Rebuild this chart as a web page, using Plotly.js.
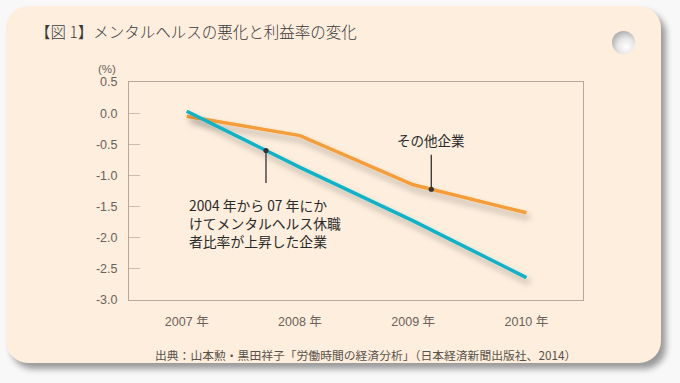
<!DOCTYPE html>
<html>
<head>
<meta charset="utf-8">
<script src="https://cdn.plot.ly/plotly-3.0.1.min.js"></script>
<style>
  html, body { margin:0; padding:0; width:680px; height:383px; overflow:hidden; background:#f8f8f8; }
  #card { position:absolute; left:6px; top:6px; width:655px; height:357px; background:#fdeedd;
          border-radius:22px; box-shadow:5px 6px 6px rgba(0,0,0,0.38); }
  #hole { position:absolute; left:612px; top:31px; width:23px; height:23px; border-radius:50%;
          background:radial-gradient(circle at 62% 68%, #ffffff 0%, #e6e6e6 40%, #a0a0a0 85%, #8a8a8a 100%); }
  #chart { position:absolute; left:0; top:0; width:680px; height:383px; }
</style>
</head>
<body>
<div id="card"></div>
<div id="hole"></div>
<div id="chart"></div>
<script>
// ---- data ----
const years = [2007, 2008, 2009, 2010];
const yearLabels = ['2007 年', '2008 年', '2009 年', '2010 年'];
const otherFirms = [-0.05, -0.36, -1.15, -1.60];          // その他企業 (orange)
const mentalFirms = [0.03, -0.87, -1.73, -2.64];          // メンタルヘルス休職者比率が上昇した企業 (teal)
const yTickVals = [0.5, 0.0, -0.5, -1.0, -1.5, -2.0, -2.5, -3.0];
const yTickText = ['0.5', '0.0', '-0.5', '-1.0', '-1.5', '-2.0', '-2.5', '-3.0'];
const titleText = '【図 1】メンタルヘルスの悪化と利益率の変化';
const sourceText = '出典：山本勲・黒田祥子「労働時間の経済分析」（日本経済新聞出版社、2014）';
const otherLabel = 'その他企業';
const mentalLabel = '2004 年から 07 年にか<br>けてメンタルヘルス休職<br>者比率が上昇した企業';

const FONT = '"Liberation Sans", "Noto Sans CJK JP", sans-serif';
const JP = '"Noto Sans CJK JP", sans-serif';
const ORANGE = '#f59d38';
const TEAL = '#0fb3c8';

// annotation anchor points derived from the series
function onLine(arr, i, f) { return arr[i] + f * (arr[i + 1] - arr[i]); }
const otherPt = { x: years[2] + 0.16, y: onLine(otherFirms, 2, 0.16) };
const mentalPt = { x: years[0] + 0.70, y: onLine(mentalFirms, 0, 0.70) };

const traces = [
  { x: years, y: otherFirms, type: 'scatter', mode: 'lines',
    line: { color: ORANGE, width: 3.5 }, hoverinfo: 'skip', name: otherLabel },
  { x: years, y: mentalFirms, type: 'scatter', mode: 'lines',
    line: { color: TEAL, width: 3.5 }, hoverinfo: 'skip', name: 'mental' }
];

const layout = {
  width: 680, height: 383,
  margin: { l: 129, r: 97, t: 82, b: 83 },
  paper_bgcolor: 'rgba(0,0,0,0)', plot_bgcolor: 'rgba(0,0,0,0)',
  showlegend: false,
  font: { family: FONT, color: '#6b625a', size: 12 },
  title: { text: titleText, xref: 'container', yref: 'container', x: 35 / 680, y: 1 - 33 / 383,
           xanchor: 'left', yanchor: 'middle', font: { family: JP, size: 15.5, color: '#3a3a3a', weight: 300 } },
  xaxis: {
    range: [2006.49, 2010.5], tickvals: years, ticktext: yearLabels,
    showgrid: false, zeroline: false, showline: true, mirror: true, linecolor: '#b3a89b', linewidth: 1,
    ticks: '', ticklabelstandoff: 10, tickfont: { size: 12.5, color: '#6b625a' }, fixedrange: true
  },
  yaxis: {
    range: [-3.0, 0.5], tickvals: yTickVals, ticktext: yTickText,
    showgrid: false, zeroline: false, showline: true, mirror: true, linecolor: '#b3a89b', linewidth: 1,
    ticks: 'inside', ticklen: 11, tickcolor: '#c9bdaf', tickwidth: 1,
    ticklabelstandoff: 8, tickfont: { size: 12.5, color: '#6b625a' }, fixedrange: true
  },
  annotations: [
    { xref: 'paper', yref: 'paper', x: -0.048, y: 1.06, xanchor: 'center', yanchor: 'middle',
      text: '(%)', showarrow: false, font: { size: 11.5, color: '#6b625a' } },
    { xref: 'paper', yref: 'paper', x: 0.522, y: -0.248, text: sourceText, showarrow: false,
      xanchor: 'center', yanchor: 'middle', font: { family: JP, size: 11.8, color: '#5a524a' } },
    { x: otherPt.x, y: otherPt.y, text: otherLabel, showarrow: true, ax: 0, ay: -49,
      arrowhead: 6, arrowsize: 1, arrowwidth: 1.3, arrowcolor: '#333333', borderpad: 4,
      font: { family: JP, size: 13.5, color: '#2a2a2a' } },
    { x: mentalPt.x, y: mentalPt.y, text: '', showarrow: true, ax: 0, ay: 34,
      arrowhead: 6, arrowsize: 1, arrowwidth: 1.3, arrowcolor: '#333333' },
    { x: years[0], y: -1.29, text: mentalLabel, showarrow: false, xanchor: 'left', yanchor: 'top',
      align: 'left', font: { family: JP, size: 13.8, color: '#2a2a2a' } }
  ]
};

Plotly.newPlot('chart', traces, layout, { staticPlot: true, displayModeBar: false }).then(function (gd) {
  // soft drop shadow under the lines
  const svg = gd.querySelector('svg.main-svg');
  const NS = 'http://www.w3.org/2000/svg';
  let defs = svg.querySelector('defs');
  if (!defs) { defs = document.createElementNS(NS, 'defs'); svg.insertBefore(defs, svg.firstChild); }
  const f = document.createElementNS(NS, 'filter');
  f.setAttribute('id', 'lineShadow');
  f.setAttribute('x', '-10%'); f.setAttribute('y', '-10%');
  f.setAttribute('width', '130%'); f.setAttribute('height', '140%');
  f.innerHTML = '<feDropShadow dx="3" dy="5" stdDeviation="3" flood-color="#000" flood-opacity="0.28"/>';
  defs.appendChild(f);
  gd.querySelectorAll('.scatterlayer .trace').forEach(function (t) { t.setAttribute('filter', 'url(#lineShadow)'); });
});
</script>
</body>
</html>
